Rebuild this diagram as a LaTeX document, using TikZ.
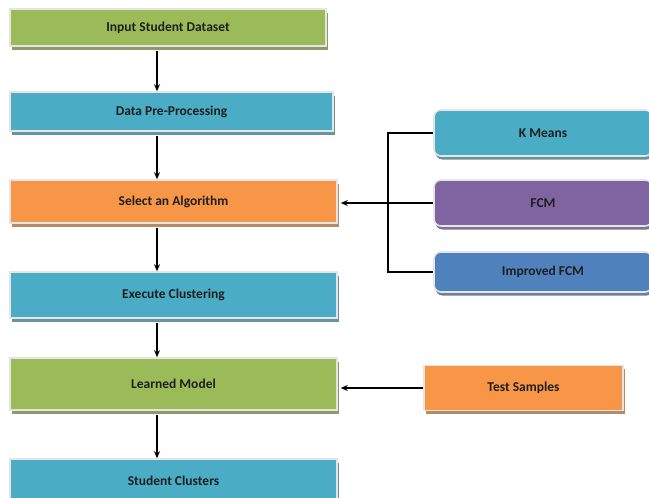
\documentclass[tikz,border=0pt]{standalone}
\usepackage{fontspec}
\setmainfont{Carlito}
\usetikzlibrary{arrows.meta,shadows}
\definecolor{cgreen}{HTML}{9BBB59}
\definecolor{cblue}{HTML}{4BACC6}
\definecolor{corange}{HTML}{F79646}
\definecolor{cpurple}{HTML}{8064A2}
\definecolor{cdblue}{HTML}{4F81BD}
\tikzset{
  stage/.style 2 args={draw=white!90!black, line width=1.6pt, fill=#1,
    font=\fontsize{13.5}{15}\selectfont\bfseries, text=black!88,
    inner sep=0pt, minimum width=327pt, minimum height=#2,
    general shadow={shadow xshift=1.5pt, shadow yshift=-3.5pt, fill=#1!45!gray}},
  algo/.style={stage={#1}{46pt}, rounded corners=7pt, minimum width=218pt},
  flow/.style={line width=1.8pt, -{Stealth[length=7pt,width=6pt]}},
  link/.style={line width=1.6pt},
}
\begin{document}
\begin{tikzpicture}[x=1pt,y=-1pt]
\useasboundingbox (0,0) rectangle (649,498);
\clip (0,0) rectangle (649,498);
\fill[white] (0,0) rectangle (649,498);
% main pipeline
\node[stage={cgreen}{37pt}, minimum width=316pt] (inp) at (168,27.5) {Input Student Dataset};
\node[stage={cblue}{39pt}, minimum width=323pt] (pre) at (171.5,111.5) {Data Pre-Processing};
\node[stage={corange}{43pt}] (sel) at (173.5,201.5) {Select an Algorithm};
\node[stage={cblue}{46pt}] (exe) at (173.5,295) {Execute Clustering};
\node[stage={cgreen}{52pt}] (lrn) at (173.5,384) {Learned Model};
\node[stage={cblue}{44pt}] (out) at (173.5,481) {Student Clusters};
% algorithm choices
\node[algo=cblue] (km) at (543,133) {K Means};
\node[algo=cpurple] (fcm) at (543,203) {FCM};
\node[algo=cdblue, minimum height=40pt] (ifcm) at (543,272) {Improved FCM};
% test input
\node[stage={corange}{45pt}, minimum width=199pt] (ts) at (523.5,388) {Test Samples};
% connectors
\coordinate (ax) at (157,0);
\coordinate (bus) at (388,0);
\draw[flow] (inp.south -| ax) ++(0,4) -- (pre.north -| ax);
\draw[flow] (pre.south -| ax) ++(0,4) -- (sel.north -| ax);
\draw[flow] (sel.south -| ax) ++(0,4) -- (exe.north -| ax);
\draw[flow] (exe.south -| ax) ++(0,4) -- (lrn.north -| ax);
\draw[flow] (lrn.south -| ax) ++(0,4) -- (out.north -| ax);
\draw[link] (km.west) -| (bus |- ifcm.west) -- (ifcm.west);
\draw[flow] (fcm.west) -- ([xshift=3pt]sel.east |- fcm.west);
\draw[flow] (ts.west) -- ([xshift=3pt]lrn.east |- ts.west);
\end{tikzpicture}
\end{document}
